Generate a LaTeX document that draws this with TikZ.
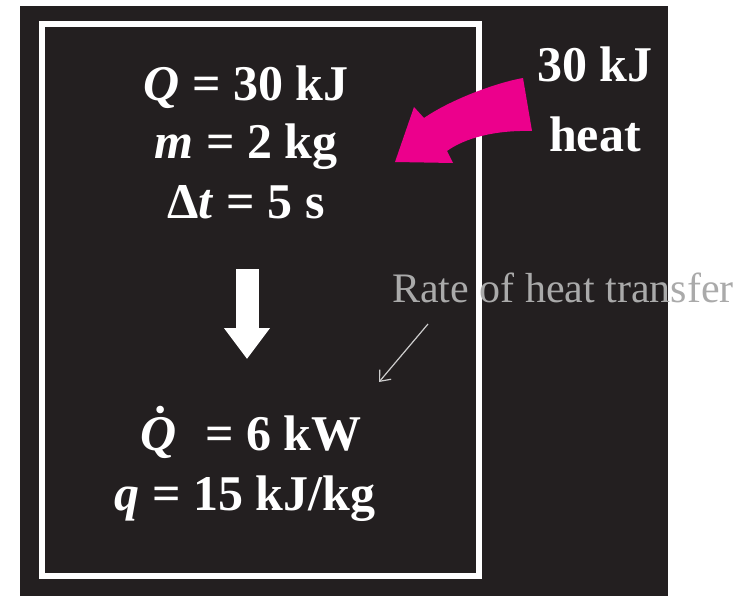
\documentclass[tikz,border=0pt]{standalone}
\usepackage{fontspec}
\setmainfont{Liberation Serif}
\usetikzlibrary{arrows.meta,calc}
\definecolor{Board}{RGB}{35,31,32}
\definecolor{HeatPink}{RGB}{236,0,140}
\definecolor{NoteGray}{RGB}{170,170,170}
\definecolor{PointerGray}{RGB}{205,205,205}
\tikzset{
  qline/.style={anchor=base,inner sep=0pt,text=white,
                font=\fontsize{50}{58}\selectfont\bfseries},
  note/.style={anchor=base west,inner sep=0pt,text=NoteGray,
               font=\fontsize{42}{50}\selectfont},
  pointer/.style={-{Straight Barb[length=9pt,width=15pt]},PointerGray,line width=1.2pt},
  flow/.style={white,line width=23pt,-{Triangle[length=31pt,width=44pt]}},
}
\begin{document}
\begin{tikzpicture}[x=1pt,y=-1pt]
    \useasboundingbox (0,0) rectangle (743,596);
    \fill[Board] (20,6) rectangle (668,596);
    \draw[white,line width=6pt] (42,24) rectangle (478.5,575.5);

    % given data
    \node[qline] (heatQ) at (246,101) {\textit{Q} = 30 kJ};
    \node[qline] (mass) at (246,158) {\textit{m} = 2 kg};
    \node[qline] (dt) at (246,218) {Δ\textit{t} = 5 s};

    % results
    \node[qline] (rateQ) at (251,450) {\textit{Q̇}\, = 6 kW};
    \node[qline] (specq) at (245,510) {\textit{q} = 15 kJ/kg};

    % heat input
    \node[qline] (inJ) at (595,82) {30 kJ};
    \node[qline] (inheat) at (595,152) {heat};
    \fill[HeatPink] (523,78) .. controls (495,83) and (450,100) .. (424,118)
        -- (414,107) -- (395,162) -- (453,163) -- (447,151)
        .. controls (465,138) and (495,130) .. (532,131) -- cycle;

    \coordinate (flowtop) at (247,269);
    \coordinate (flowtip) at (247,359);
    \draw[flow] (flowtop) -- (flowtip);

    \node[note] (ratelbl) at (392,302) {Rate of heat transfer};
    \coordinate (ratetip) at (379,382);
    \draw[pointer] ($(ratelbl.base west)+(36,22)$) -- (ratetip);
\end{tikzpicture}
\end{document}
